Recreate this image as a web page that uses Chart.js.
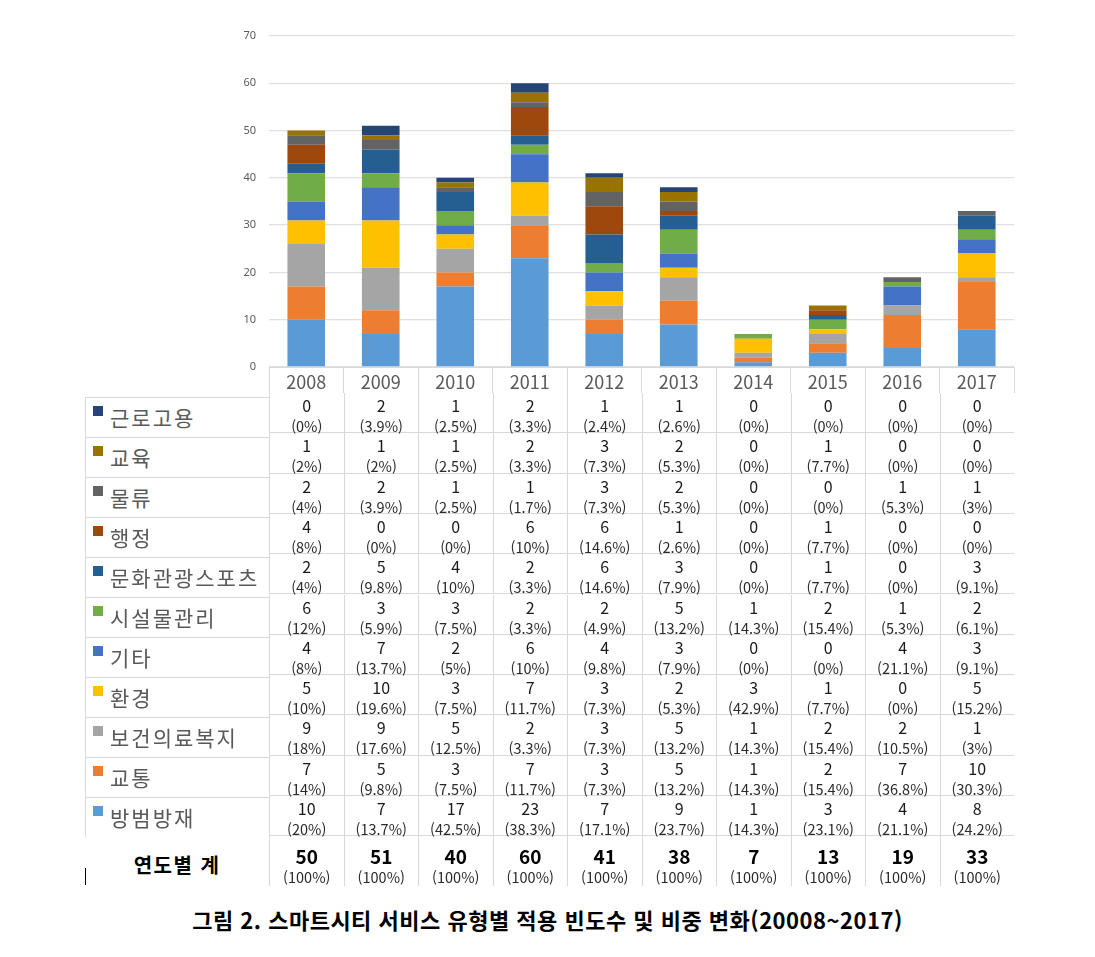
<!DOCTYPE html>
<html lang="ko">
<head>
<meta charset="utf-8">
<title>스마트시티 서비스 유형별 적용 빈도수 및 비중 변화</title>
<script src="https://cdn.jsdelivr.net/npm/chart.js@4.4.1/dist/chart.umd.min.js"></script>
<style>
    body {
        margin: 0;
        background: #fff;
        width: 1095px;
        height: 957px;
        position: relative;
        overflow: hidden;
        font-family: "Noto Sans CJK KR", "Noto Sans", sans-serif;
    }
    canvas { position: absolute; left: 0; top: 0; }
    .cell {
        position: absolute;
        box-sizing: border-box;
        text-align: center;
        border-left: 1px solid #d9d9d9;
        border-bottom: 1px solid #d9d9d9;
        padding-top: 2px;
    }
    .num { font-size: 16px; line-height: 21px; color: #1a1a1a; }
    .pct { font-size: 14.5px; line-height: 20px; color: #2a2a2a; }
    .legend {
        position: absolute;
        box-sizing: border-box;
        border-left: 1px solid #d9d9d9;
        border-top: 1px solid #d9d9d9;
        font-size: 21px;
        letter-spacing: 2px;
        color: #595959;
        line-height: 38px;
        padding-left: 24px;
        white-space: nowrap;
    }
    .legend i {
        position: absolute;
        left: 7px;
        top: 8px;
        width: 10px;
        height: 10px;
    }
    .total { border-bottom: none; }
    .total .num { font-size: 19px; font-weight: bold; color: #000; line-height: 24px; padding-top: 6px; }
    .total .pct { line-height: 18px; }
    #totalLabel {
        position: absolute;
        left: 85px;
        top: 836px;
        width: 184px;
        height: 50px;
        line-height: 58px;
        text-align: center;
        font-size: 20px;
        font-weight: bold;
        letter-spacing: 1.5px;
        color: #000;
    }
    #mark { position: absolute; left: 85px; top: 868px; width: 1px; height: 17px; background: #000; }
    #caption {
        position: absolute;
        left: 0;
        top: 904px;
        width: 1095px;
        text-align: center;
        font-size: 22px;
        font-weight: bold;
        letter-spacing: 0.5px;
        line-height: 30px;
        color: #000;
    }
</style>
</head>
<body>
<canvas id="chart" width="1095" height="394"></canvas>
<div id="totalLabel">연도별 계</div>
<div id="mark"></div>
<div id="caption">그림 2. 스마트시티 서비스 유형별 적용 빈도수 및 비중 변화(20008~2017)</div>

<script>
// categories
const years = ["2008", "2009", "2010", "2011", "2012", "2013", "2014", "2015", "2016", "2017"]

// series, in table order (top row first)
const seriesNames = ["근로고용", "교육", "물류", "행정", "문화관광스포츠", "시설물관리", "기타", "환경", "보건의료복지", "교통", "방범방재"]
const seriesColors = ["#264478", "#997300", "#636363", "#9e480e", "#255e91", "#70ad47", "#4472c4", "#ffc000", "#a5a5a5", "#ed7d31", "#5b9bd5"]

const work      = [0, 2, 1, 2, 1, 1, 0, 0, 0, 0]
const education = [1, 1, 1, 2, 3, 2, 0, 1, 0, 0]
const logistics = [2, 2, 1, 1, 3, 2, 0, 0, 1, 1]
const admin     = [4, 0, 0, 6, 6, 1, 0, 1, 0, 0]
const culture   = [2, 5, 4, 2, 6, 3, 0, 1, 0, 3]
const facility  = [6, 3, 3, 2, 2, 5, 1, 2, 1, 2]
const etc       = [4, 7, 2, 6, 4, 3, 0, 0, 4, 3]
const environ   = [5, 10, 3, 7, 3, 2, 3, 1, 0, 5]
const health    = [9, 9, 5, 2, 3, 5, 1, 2, 2, 1]
const traffic   = [7, 5, 3, 7, 3, 5, 1, 2, 7, 10]
const safety    = [10, 7, 17, 23, 7, 9, 1, 3, 4, 8]

const seriesValues = [work, education, logistics, admin, culture, facility, etc, environ, health, traffic, safety]

// y axis ticks
const yTicks = [0, 10, 20, 30, 40, 50, 60, 70]

// layout
const plotLeft = 269
const plotRight = 1014
const plotTop = 36
const plotBottom = 367
const colWidth = (plotRight - plotLeft) / years.length
const rowTop = 393
const rowHeight = 40.3
const legendTop = 396.5
const legendHeight = 40

const totals = years.map((y, i) => seriesValues.reduce((s, arr) => s + arr[i], 0))

function pct(v, t) {
    return "(" + (Math.round(v / t * 1000) / 10) + "%)"
}

// datasets: first one sits at the bottom of the stack
let datasets = []
for (let k = seriesNames.length - 1; k >= 0; k--) {
    datasets.push({
        label: seriesNames[k],
        data: seriesValues[k],
        backgroundColor: seriesColors[k],
        borderWidth: 0,
        categoryPercentage: 1,
        barPercentage: 0.505
    })
}

new Chart(document.getElementById("chart"), {
    type: "bar",
    data: { labels: years, datasets: datasets },
    options: {
        responsive: false,
        animation: false,
        layout: { padding: { left: 0, right: 1095 - plotRight, top: plotTop, bottom: 0 } },
        plugins: {
            legend: { display: false },
            tooltip: { enabled: false }
        },
        scales: {
            x: {
                stacked: true,
                afterFit: function (scale) { scale.height = 394 - plotBottom },
                grid: {
                    offset: true,
                    drawOnChartArea: false,
                    drawTicks: true,
                    tickLength: 26,
                    // no closing line on the right of the year row
                    color: ctx => ctx.index === years.length ? "rgba(0,0,0,0)" : "#d9d9d9"
                },
                border: { color: "#d9d9d9" },
                ticks: {
                    padding: -22,
                    color: "#595959",
                    font: { size: 18, family: "'Noto Sans CJK KR', 'Noto Sans', sans-serif" }
                }
            },
            y: {
                stacked: true,
                min: yTicks[0],
                max: yTicks[yTicks.length - 1],
                afterFit: function (scale) { scale.width = plotLeft },
                afterBuildTicks: function (scale) { scale.ticks = yTicks.map(v => ({ value: v })) },
                grid: { color: "#e0e0e0", lineWidth: 1.3, drawTicks: false },
                border: { display: false },
                ticks: {
                    padding: 13,
                    color: "#595959",
                    font: { size: 11, family: "'Noto Sans', sans-serif" }
                }
            }
        }
    }
})

// data table under the chart
for (let r = 0; r < seriesNames.length; r++) {
    let leg = document.createElement("div")
    leg.className = "legend"
    leg.style.left = "85px"
    leg.style.top = (legendTop + r * legendHeight) + "px"
    leg.style.width = (plotLeft - 85) + "px"
    leg.style.height = legendHeight + "px"
    leg.innerHTML = '<i style="background:' + seriesColors[r] + '"></i>' + seriesNames[r]
    document.body.appendChild(leg)

    for (let c = 0; c < years.length; c++) {
        let cell = document.createElement("div")
        cell.className = "cell"
        cell.style.left = (plotLeft + c * colWidth) + "px"
        cell.style.top = (rowTop + r * rowHeight) + "px"
        cell.style.width = colWidth + "px"
        cell.style.height = rowHeight + "px"
        let v = seriesValues[r][c]
        cell.innerHTML = '<div class="num">' + v + '</div><div class="pct">' + pct(v, totals[c]) + '</div>'
        document.body.appendChild(cell)
    }
}

let totalTop = rowTop + seriesNames.length * rowHeight
for (let c = 0; c < years.length; c++) {
    let cell = document.createElement("div")
    cell.className = "cell total"
    cell.style.left = (plotLeft + c * colWidth) + "px"
    cell.style.top = totalTop + "px"
    cell.style.width = colWidth + "px"
    cell.style.height = (886 - totalTop) + "px"
    cell.innerHTML = '<div class="num">' + totals[c] + '</div><div class="pct">(100%)</div>'
    document.body.appendChild(cell)
}
</script>
</body>
</html>
